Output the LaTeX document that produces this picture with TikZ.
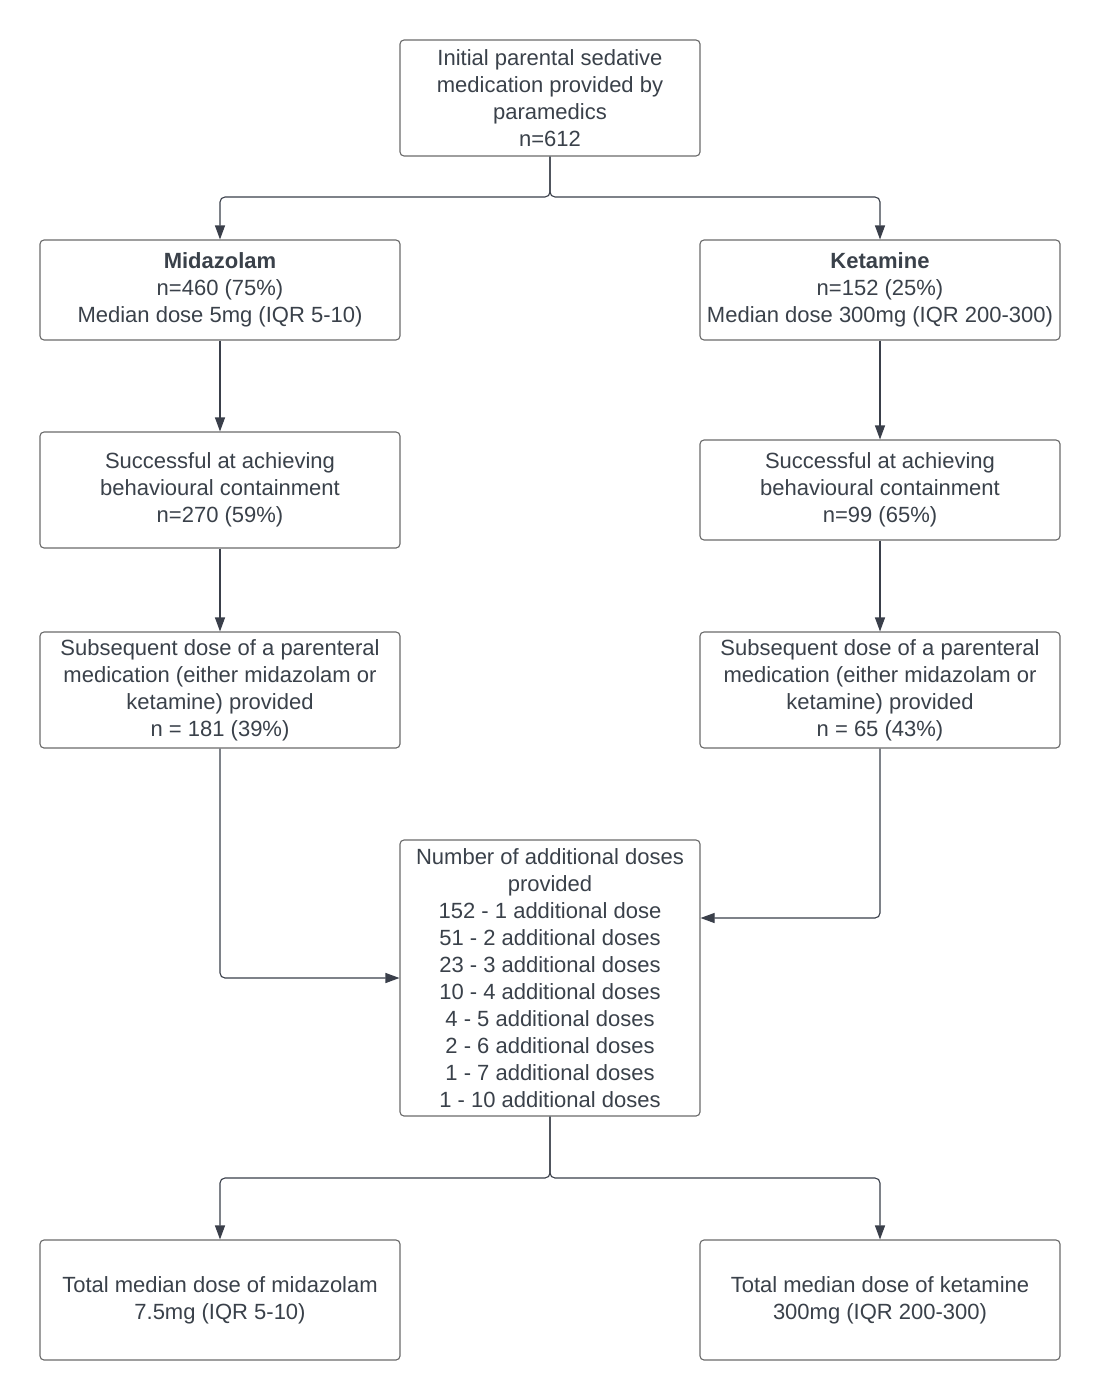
\documentclass[tikz,border=0pt]{standalone}
\usepackage{fontspec}
\setmainfont{Liberation Sans}
\usetikzlibrary{arrows.meta}
\definecolor{txt}{HTML}{3A414A}
\definecolor{boxline}{HTML}{6A6A6A}
\definecolor{conn}{HTML}{3A3F4A}
\begin{document}
\begin{tikzpicture}[x=1pt,y=-1pt,
  box/.style={draw=boxline, line width=1.1pt, rounded corners=4pt, fill=white,
    text=txt, align=center, inner sep=0pt, font=\fontsize{22}{27}\selectfont},
  conn/.style={draw=conn, line width=1.1pt, rounded corners=5pt,
    -{Triangle[length=14pt,width=10pt]}}]
\useasboundingbox (0,0) rectangle (1100,1400);
\fill[white] (0,0) rectangle (1100,1400);
\node[box, minimum width=300pt, minimum height=116pt] (top) at (550,98)
  {Initial parental sedative\\medication provided by\\paramedics\\n=612};
\node[box, minimum width=360pt, minimum height=100pt] (mid) at (220,290)
  {\textbf{Midazolam}\\n=460 (75\%)\\Median dose 5mg (IQR 5-10)};
\node[box, minimum width=360pt, minimum height=100pt] (ket) at (880,290)
  {\textbf{Ketamine}\\n=152 (25\%)\\Median dose 300mg (IQR 200-300)};
\node[box, minimum width=360pt, minimum height=116pt] (sucL) at (220,490)
  {Successful at achieving\\behavioural containment\\n=270 (59\%)};
\node[box, minimum width=360pt, minimum height=100pt] (sucR) at (880,490)
  {Successful at achieving\\behavioural containment\\n=99 (65\%)};
\node[box, minimum width=360pt, minimum height=116pt] (subL) at (220,690)
  {Subsequent dose of a parenteral\\medication (either midazolam or\\ketamine) provided\\n = 181 (39\%)};
\node[box, minimum width=360pt, minimum height=116pt] (subR) at (880,690)
  {Subsequent dose of a parenteral\\medication (either midazolam or\\ketamine) provided\\n = 65 (43\%)};
\node[box, minimum width=300pt, minimum height=276pt] (num) at (550,978)
  {Number of additional doses\\provided\\152 - 1 additional dose\\51 - 2 additional doses\\23 - 3 additional doses\\10 - 4 additional doses\\4 - 5 additional doses\\2 - 6 additional doses\\1 - 7 additional doses\\1 - 10 additional doses};
\node[box, minimum width=360pt, minimum height=120pt] (totL) at (220,1300)
  {Total median dose of midazolam\\7.5mg (IQR 5-10)};
\node[box, minimum width=360pt, minimum height=120pt] (totR) at (880,1300)
  {Total median dose of ketamine\\300mg (IQR 200-300)};
\coordinate (j1) at (550,197);
\coordinate (j2) at (550,1178);
\draw[conn] (top.south) -- (j1) -| (mid.north);
\draw[conn] (top.south) -- (j1) -| (ket.north);
\draw[conn] (mid.south) -- (sucL.north);
\draw[conn] (ket.south) -- (sucR.north);
\draw[conn] (sucL.south) -- (subL.north);
\draw[conn] (sucR.south) -- (subR.north);
\draw[conn] (subL.south) |- (num.west);
\draw[conn] (subR.south) |- ([yshift=60pt]num.east);
\draw[conn] (num.south) -- (j2) -| (totL.north);
\draw[conn] (num.south) -- (j2) -| (totR.north);
\end{tikzpicture}
\end{document}
